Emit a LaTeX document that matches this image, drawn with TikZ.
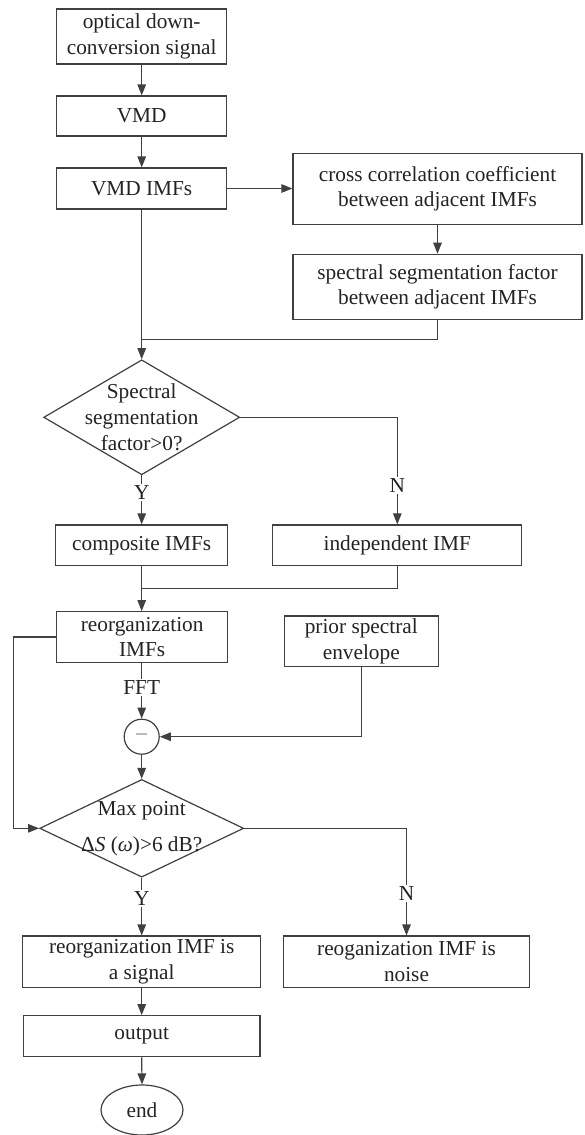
\documentclass[tikz,border=0pt]{standalone}
\usepackage{fontspec}
\setmainfont{Liberation Serif}
\usetikzlibrary{arrows.meta,shapes.geometric}
\definecolor{lc}{RGB}{64,64,64}
\definecolor{tc}{RGB}{35,35,35}
\begin{document}
\begin{tikzpicture}[x=1pt,y=-1pt,
  every node/.style={font=\fontsize{21.3}{25.7}\selectfont, text=tc},
  box/.style={draw=lc, line width=1.2pt, rectangle, align=center, inner sep=0pt},
  dia/.style={draw=lc, line width=1.2pt, diamond, inner sep=0pt},
  ln/.style={draw=lc, line width=1.2pt},
  arr/.style={ln, -{Triangle[length=11pt,width=8.5pt]}},
  lbl/.style={fill=white, inner sep=1.5pt}]
\useasboundingbox (0,0) rectangle (585,1135);
\fill[white] (0,0) rectangle (585,1135);

\node[box, minimum width=170pt, minimum height=55pt] (b1) at (141.7,36.5) {optical down-\\conversion signal};
\node[box, minimum width=170pt, minimum height=40pt] (b2) at (141.7,116) {VMD};
\node[box, minimum width=170pt, minimum height=41pt] (b3) at (141.7,188.5) {VMD IMFs};
\node[box, minimum width=289pt, minimum height=71pt] (b4) at (437.5,188.8) {cross correlation coefficient\\between adjacent IMFs};
\node[box, minimum width=289pt, minimum height=65pt] (b5) at (437.5,286.8) {spectral segmentation factor\\between adjacent IMFs};
\coordinate (m1) at (141.7,339.3);
\node[dia, minimum width=196pt, minimum height=115pt,
  label={[align=center]center:{Spectral\\segmentation\\factor>0?}}] (d1) at (141.7,417.3) {};
\node[box, minimum width=171.7pt, minimum height=40.7pt] (c1) at (141.7,545.3) {composite IMFs};
\node[box, minimum width=249pt, minimum height=40.7pt] (c2) at (397.3,545.3) {independent IMF};
\coordinate (m2) at (141.7,588.3);
\node[box, minimum width=171pt, minimum height=50.6pt] (r1) at (142.2,637) {reorganization\\IMFs};
\node[box, minimum width=154pt, minimum height=50.7pt] (p1) at (361.3,641.3) {prior spectral\\envelope};
\node[circle, draw=lc, line width=1.2pt, minimum size=35pt, inner sep=0pt] (m) at (141.7,736.7) {\textcolor{gray}{–}};
\node[dia, minimum width=204pt, minimum height=97.7pt,
  label={[align=center]center:{Max point\\[10.3pt]Δ\textit{S} (\textit{ω})>6 dB?}}] (d2) at (141.7,828.3) {};
\node[box, minimum width=238pt, minimum height=51.3pt] (s1) at (141.7,961.7) {reorganization IMF is\\a signal};
\node[box, minimum width=246.7pt, minimum height=51.3pt] (n1) at (406.5,961.7) {reoganization IMF is\\noise};
\node[box, minimum width=236.7pt, minimum height=41pt] (o1) at (141.7,1036.2) {output};
\node[ellipse, draw=lc, line width=1.2pt, minimum width=82pt, minimum height=50pt, inner sep=0pt] (e1) at (142,1110) {end};

\draw[arr] (b1.south) -- (b2.north);
\draw[arr] (b2.south) -- (b3.north);
\draw[arr] (b3.east) -- (b3.east -| b4.west);
\draw[arr] (b4.south) -- (b5.north);
\draw[ln] (b5.south) |- (m1);
\draw[arr] (b3.south) -- (d1.north);
\draw[arr] (d1.south) -- node[lbl,pos=0.354]{Y} (c1.north);
\draw[arr] (d1.east) -| node[lbl,pos=0.819]{N} (c2.north);
\draw[ln] (c2.south) |- (m2);
\draw[arr] (c1.south) -- (r1.north -| c1.south);
\draw[arr] (r1.south -| m.north) -- node[lbl,pos=0.436]{FFT} (m.north);
\draw[arr] (p1.south) |- (m.east);
\draw[arr] (m.south) -- (d2.north);
\draw[arr] (r1.west) -- ++(-42.4,0) |- (d2.west);
\draw[arr] (d2.east) -| node[lbl,pos=0.805]{N} (n1.north);
\draw[arr] (d2.south) -- node[lbl,pos=0.364]{Y} (s1.north);
\draw[arr] (s1.south) -- (o1.north);
\draw[arr] (o1.south) -- (e1.north);
\end{tikzpicture}
\end{document}
